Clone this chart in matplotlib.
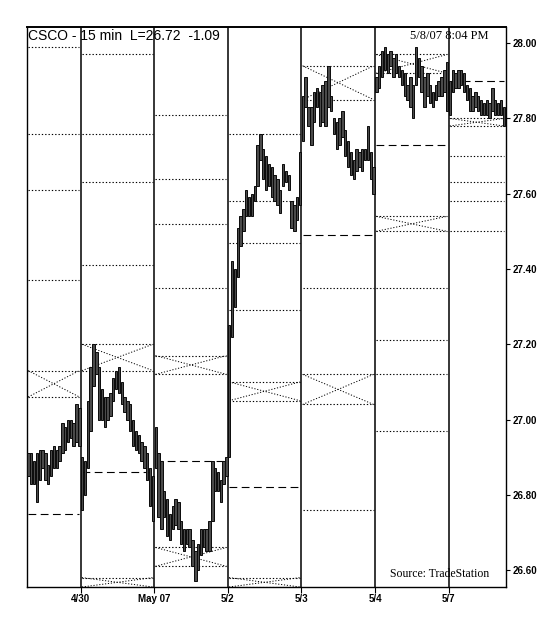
import matplotlib
matplotlib.use("Agg")
import matplotlib.pyplot as plt
from matplotlib import font_manager
import numpy as np

# =========================
# DATA
# =========================

day_labels = ["", "4/30", "May 07", "5/2", "5/3", "5/4", "5/7"]

# 15 min bars, high / low per day
hi_0427 = [26.91, 26.91, 26.89, 26.91, 26.92, 26.92, 26.91, 26.88, 26.92, 26.93,
           26.92, 26.93, 26.99, 26.98, 27.00, 27.00, 26.99, 27.04, 27.03]
lo_0427 = [26.85, 26.83, 26.83, 26.78, 26.84, 26.87, 26.84, 26.83, 26.85, 26.87,
           26.87, 26.89, 26.91, 26.92, 26.94, 26.95, 26.93, 26.94, 26.93]

hi_0430 = [26.90, 26.89, 27.05, 27.14, 27.20, 27.18, 27.14, 27.08, 27.06, 27.06,
           27.07, 27.11, 27.13, 27.14, 27.10, 27.06, 27.05, 27.04, 27.00, 26.97,
           26.96, 26.94, 26.93, 26.91, 26.87, 26.85]
lo_0430 = [26.76, 26.80, 26.87, 26.97, 27.09, 27.12, 27.00, 27.00, 26.98, 27.00,
           27.01, 27.05, 27.08, 27.07, 27.04, 27.02, 27.00, 26.97, 26.93, 26.92,
           26.91, 26.89, 26.87, 26.84, 26.77, 26.73]

hi_0501 = [26.98, 26.91, 26.89, 26.81, 26.79, 26.75, 26.77, 26.79, 26.78, 26.73,
           26.71, 26.71, 26.71, 26.68, 26.65, 26.67, 26.71, 26.71, 26.71, 26.73,
           26.89, 26.87, 26.86, 26.84, 26.89, 26.90]
lo_0501 = [26.87, 26.74, 26.71, 26.74, 26.69, 26.68, 26.71, 26.72, 26.71, 26.67,
           26.65, 26.67, 26.66, 26.61, 26.57, 26.60, 26.64, 26.66, 26.65, 26.65,
           26.73, 26.81, 26.81, 26.78, 26.83, 26.85]

hi_0502 = [27.25, 27.42, 27.40, 27.51, 27.54, 27.56, 27.61, 27.59, 27.60, 27.62,
           27.73, 27.76, 27.72, 27.70, 27.68, 27.67, 27.65, 27.64, 27.61, 27.68,
           27.66, 27.65, 27.58, 27.57, 27.59, 27.71]
lo_0502 = [26.90, 27.22, 27.30, 27.38, 27.46, 27.50, 27.54, 27.54, 27.54, 27.58,
           27.62, 27.69, 27.64, 27.61, 27.62, 27.59, 27.58, 27.57, 27.55, 27.62,
           27.63, 27.61, 27.51, 27.50, 27.53, 27.57]

hi_0503 = [27.86, 27.91, 27.83, 27.83, 27.87, 27.88, 27.87, 27.89, 27.90, 27.94,
           27.86, 27.80, 27.79, 27.80, 27.82, 27.77, 27.74, 27.71, 27.69, 27.72,
           27.71, 27.72, 27.72, 27.78, 27.71, 27.67]
lo_0503 = [27.74, 27.83, 27.78, 27.73, 27.79, 27.83, 27.78, 27.79, 27.78, 27.83,
           27.82, 27.76, 27.72, 27.73, 27.75, 27.70, 27.67, 27.65, 27.64, 27.66,
           27.67, 27.66, 27.69, 27.69, 27.64, 27.60]

hi_0504 = [27.91, 27.94, 27.98, 27.99, 27.97, 27.98, 27.96, 27.97, 27.94, 27.93,
           27.92, 27.89, 27.91, 27.89, 27.99, 27.96, 27.94, 27.91, 27.92, 27.89,
           27.87, 27.89, 27.90, 27.91, 27.93, 27.95]
lo_0504 = [27.87, 27.88, 27.91, 27.93, 27.92, 27.94, 27.91, 27.92, 27.91, 27.89,
           27.86, 27.85, 27.83, 27.80, 27.89, 27.91, 27.87, 27.83, 27.86, 27.84,
           27.83, 27.85, 27.86, 27.86, 27.87, 27.82]

hi_0507 = [27.90, 27.93, 27.92, 27.93, 27.93, 27.92, 27.89, 27.88, 27.86, 27.87,
           27.86, 27.85, 27.84, 27.85, 27.84, 27.88, 27.85, 27.84, 27.85, 27.83]
lo_0507 = [27.81, 27.87, 27.88, 27.88, 27.89, 27.87, 27.85, 27.82, 27.82, 27.83,
           27.82, 27.81, 27.81, 27.81, 27.80, 27.82, 27.81, 27.81, 27.81, 27.78]

day_highs = [hi_0427, hi_0430, hi_0501, hi_0502, hi_0503, hi_0504, hi_0507]
day_lows = [lo_0427, lo_0430, lo_0501, lo_0502, lo_0503, lo_0504, lo_0507]

# daily pivot levels: (day, price)
dotted_levels = [
    (0, 27.99), (0, 27.76), (0, 27.61), (0, 27.37),
    (1, 27.97), (1, 27.76), (1, 27.63), (1, 27.41),
    (2, 27.81), (2, 27.64), (2, 27.52), (2, 27.35),
    (3, 27.76), (3, 27.58), (3, 27.47), (3, 27.29),
    (4, 27.35), (4, 26.76),
    (5, 27.35), (5, 27.21), (5, 27.12), (5, 26.97),
    (6, 27.70), (6, 27.63), (6, 27.58), (6, 27.50),
]
dashed_levels = [
    (0, 26.75), (1, 26.86), (2, 26.89), (3, 26.82),
    (4, 27.49), (5, 27.73), (6, 27.90),
]
# crossed bands: (day, upper, lower)
cross_levels = [
    (0, 27.13, 27.06),
    (1, 27.20, 27.13), (1, 26.58, 26.555),
    (2, 27.17, 27.12), (2, 26.66, 26.61),
    (3, 27.10, 27.05), (3, 26.58, 26.555),
    (4, 27.94, 27.85), (4, 27.12, 27.04),
    (5, 27.97, 27.92), (5, 27.54, 27.50),
    (6, 27.80, 27.78),
]

y_ticks = [26.60, 26.80, 27.00, 27.20, 27.40, 27.60, 27.80, 28.00]

# =========================
# FONTS
# =========================

names = {f.name for f in font_manager.fontManager.ttflist}
narrow = "Liberation Sans Narrow" if "Liberation Sans Narrow" in names else "Liberation Sans"
serif = "Liberation Serif"

# =========================
# LAYOUT
# =========================

n_bars = [len(h) for h in day_highs]
starts = np.concatenate([[0], np.cumsum(n_bars)[:-1]])
ends = np.cumsum(n_bars)

highs = np.concatenate(day_highs)
lows = np.concatenate(day_lows)
x = np.arange(len(highs))

fig = plt.figure(figsize=(5.44, 6.24), dpi=100)
fig.patch.set_facecolor("white")
ax = fig.add_axes([27 / 544, 37 / 624, 479 / 544, 560 / 624])

ax.set_xlim(-0.5, 168.8)
ax.set_ylim(26.555, 28.043)

# price bars
ax.bar(
    x,
    highs - lows,
    bottom=lows,
    width=0.85,
    color="#4a4a4a",
    edgecolor="#0a0a0a",
    linewidth=0.7,
    zorder=3
)

dot_style = (0, (1.2, 1.8))
dash_style = (0, (7, 4))

for d, p in dotted_levels:
    ax.hlines(p, starts[d] - 0.1, ends[d] - 1.0,
              colors="black", linestyles=dot_style, linewidth=0.8, zorder=2)

for d, p in dashed_levels:
    ax.hlines(p, starts[d] - 0.1, ends[d] - 1.0,
              colors="black", linestyles=dash_style, linewidth=0.8, zorder=2)

for d, top, bot in cross_levels:
    x0 = starts[d] - 0.1
    x1 = ends[d] - 1.0
    ax.hlines([top, bot], x0, x1,
              colors="black", linestyles=dot_style, linewidth=0.8, zorder=2)
    ax.plot([x0, x1], [top, bot], color="black",
            linestyle=dot_style, linewidth=0.7, zorder=2)
    ax.plot([x0, x1], [bot, top], color="black",
            linestyle=dot_style, linewidth=0.7, zorder=2)

# session dividers
for d in range(1, len(n_bars)):
    ax.axvline(starts[d] - 0.5, color="black", linewidth=1.1, zorder=1)

# axes
for side in ["left", "right", "top", "bottom"]:
    ax.spines[side].set_color("black")
    ax.spines[side].set_linewidth(1.0)
ax.spines["top"].set_linewidth(1.4)

ax.yaxis.tick_right()
ax.set_yticks(y_ticks)
ax.set_yticklabels([f"{v:.2f}" for v in y_ticks],
                   fontsize=7, fontweight="bold", family=[narrow, "DejaVu Sans"])
ax.tick_params(axis="y", direction="out", length=3, width=0.8, pad=2)

ax.set_xticks(starts[1:] - 0.5)
ax.set_xticklabels(day_labels[1:],
                   fontsize=7, fontweight="bold", family=[narrow, "DejaVu Sans"])
ax.tick_params(axis="x", direction="out", length=4, width=0.8, pad=1)

# header / footer text
ax.text(0.002, 0.997, "CSCO - 15 min  L=26.72  -1.09",
        transform=ax.transAxes, ha="left", va="top",
        fontsize=10, family=[narrow, "DejaVu Sans"], zorder=5)
ax.text(0.80, 0.995, "5/8/07 8:04 PM",
        transform=ax.transAxes, ha="left", va="top",
        fontsize=9, family=[serif, "DejaVu Serif"], zorder=5)
ax.text(0.757, 0.012, "Source: TradeStation",
        transform=ax.transAxes, ha="left", va="bottom",
        fontsize=8.5, family=[serif, "DejaVu Serif"], zorder=5)

plt.savefig("out.png", dpi=100, facecolor="white")
